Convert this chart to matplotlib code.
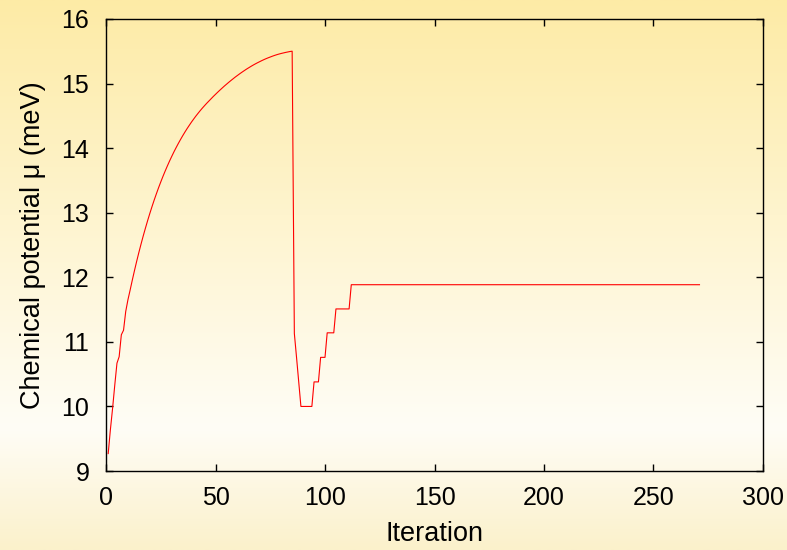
import matplotlib
matplotlib.use("Agg")
import matplotlib.pyplot as plt
from matplotlib.colors import LinearSegmentedColormap
import numpy as np

plt.rcParams['font.family'] = ['Liberation Sans', 'DejaVu Sans']

# chemical potential during the first 85 iterations (iteration 1..85)
rise_mu = [9.27, 9.64, 9.97, 10.33, 10.67, 10.77, 11.11, 11.18, 11.47, 11.65,
           11.800, 11.955, 12.104, 12.247, 12.384, 12.515, 12.641, 12.761, 12.877, 12.988,
           13.094, 13.196, 13.293, 13.387, 13.476, 13.562, 13.644, 13.723, 13.799, 13.871,
           13.941, 14.007, 14.071, 14.132, 14.191, 14.247, 14.301, 14.352, 14.402, 14.449,
           14.495, 14.538, 14.580, 14.620, 14.658, 14.695, 14.730, 14.765, 14.800, 14.833,
           14.866, 14.898, 14.929, 14.960, 14.989, 15.018, 15.046, 15.073, 15.100, 15.125,
           15.150, 15.174, 15.197, 15.220, 15.241, 15.262, 15.282, 15.301, 15.319, 15.336,
           15.353, 15.369, 15.384, 15.398, 15.411, 15.424, 15.436, 15.447, 15.457, 15.466,
           15.474, 15.482, 15.489, 15.496, 15.501]

# after the reset: iterations where the value changes (steps)
step_iter = [86, 87, 88, 89, 94, 95, 97, 98, 100, 101, 104, 105, 111, 112, 271]
step_mu = [11.13, 10.76, 10.38, 10.00, 10.00, 10.38, 10.38, 10.76, 10.76,
           11.14, 11.14, 11.51, 11.51, 11.885, 11.885]

iterations = list(range(1, len(rise_mu) + 1)) + step_iter
mu = rise_mu + step_mu

fig = plt.figure(figsize=(7.87, 5.5), dpi=100)

# yellow - white - yellow background gradient over the whole figure
bg = fig.add_axes([0, 0, 1, 1], zorder=-1)
cmap = LinearSegmentedColormap.from_list(
    "bg", [(0.0, "#fdeba6"), (0.78, "#fffdf6"), (1.0, "#fbf1cb")])
bg.imshow(np.linspace(0, 1, 256).reshape(-1, 1), cmap=cmap, aspect='auto',
          extent=[0, 1, 0, 1], origin='upper')
bg.axis('off')

ax = fig.add_axes([0.1347, 0.1436, 0.8348, 0.8219])
ax.set_facecolor('none')
ax.plot(iterations, mu, color='#ff0000', lw=0.8)

ax.set_xlim(0, 300)
ax.set_ylim(9, 16)
ax.set_xticks(range(0, 301, 50))
ax.set_yticks(range(9, 17))
ax.tick_params(direction='in', length=5, width=1, top=True, right=True,
               labelsize=18)
ax.tick_params(axis='x', pad=11)
ax.tick_params(axis='y', pad=12)
for s in ax.spines.values():
    s.set_linewidth(1)

ax.set_xlabel("Iteration", fontsize=19.5, labelpad=8)
ax.set_ylabel("Chemical potential μ (meV)", fontsize=19.5, labelpad=11)

plt.savefig("out.png", dpi=100)
